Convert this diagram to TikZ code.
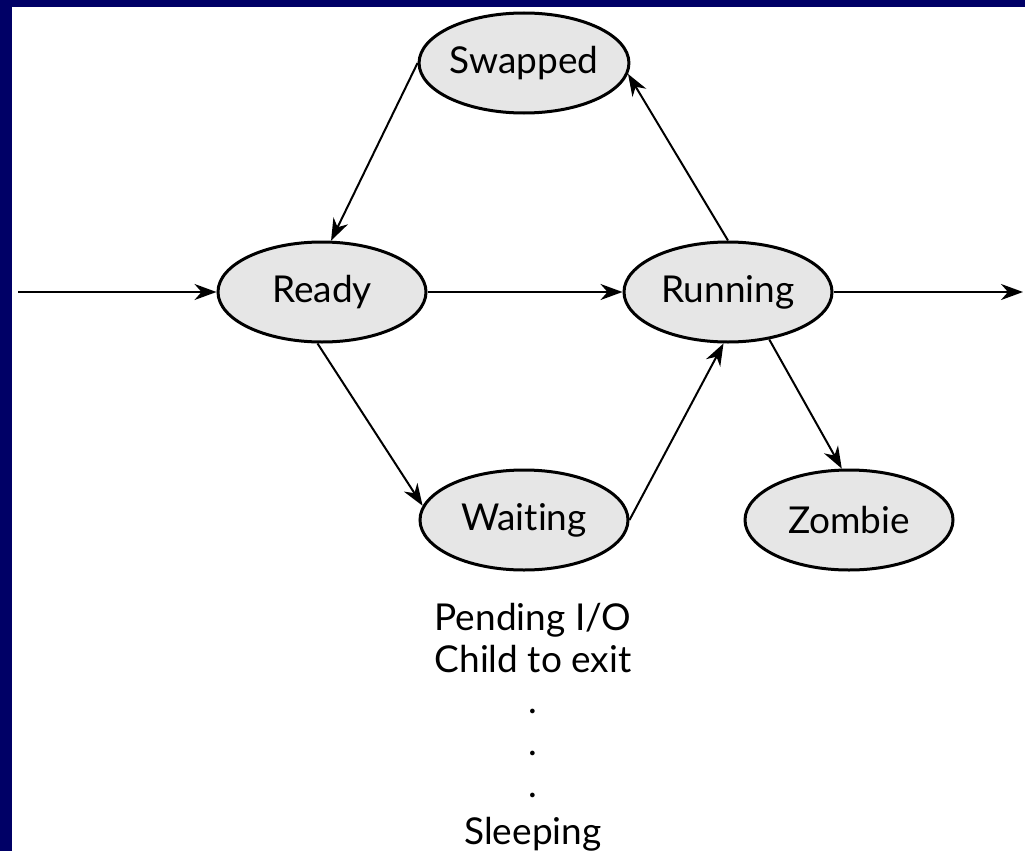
\documentclass[tikz,border=0pt]{standalone}
\usepackage{fontspec}
\setmainfont{Lato}[Ligatures={NoCommon,NoRare}]
\usetikzlibrary{arrows.meta,shapes.geometric}
\definecolor{framecol}{RGB}{0,0,102}
\definecolor{statefill}{RGB}{230,230,230}
\begin{document}
\begin{tikzpicture}[x=1pt,y=-1pt,
  state/.style={ellipse,draw=black,line width=3pt,fill=statefill,
    minimum width=208pt,minimum height=100pt,inner sep=0pt,
    font=\fontsize{37}{42}\selectfont},
  lbl/.style={anchor=base,inner sep=0pt,font=\fontsize{37}{42}\selectfont},
  conn/.style={line width=2pt,-{Stealth[length=22pt,width=16pt,inset=7pt]}}]
\useasboundingbox (0,0) rectangle (1025,851);
\fill[white] (0,0) rectangle (1025,851);
\fill[framecol] (0,0) rectangle (1025,7);
\fill[framecol] (0,0) rectangle (12,851);
\node[state] (swapped) at (524,63) {Swapped};
\node[state] (ready) at (322,292) {Ready};
\node[state] (running) at (728,292) {Running};
\node[state] (waiting) at (524,520) {Wai\kern0pt ting};
\node[state] (zombie) at (849,520) {Zombie};
\coordinate (in) at (18,292);
\coordinate (out) at (1023,292);
\node[lbl] (l1) at (533,630) {Pending I/O};
\node[lbl] (l2) at (533,672) {Child to exit};
\node[lbl] (l3) at (533,713) {.};
\node[lbl] (l4) at (533,755) {.};
\node[lbl] (l5) at (533,797) {.};
\node[lbl] (l6) at (533,844) {Sleeping};
\draw[conn] (in) -- (ready.west);
\draw[conn] (ready.east) -- (running.west);
\draw[conn] (running.east) -- (out);
\draw[conn] (swapped.180) -- (ready.80);
\draw[conn] (running.north) -- (swapped.-6);
\draw[conn] (ready.-95) -- (waiting.172);
\draw[conn] (waiting.east) -- (running.-95);
\draw[conn] (running.-49) -- (zombie.98);
\end{tikzpicture}
\end{document}
